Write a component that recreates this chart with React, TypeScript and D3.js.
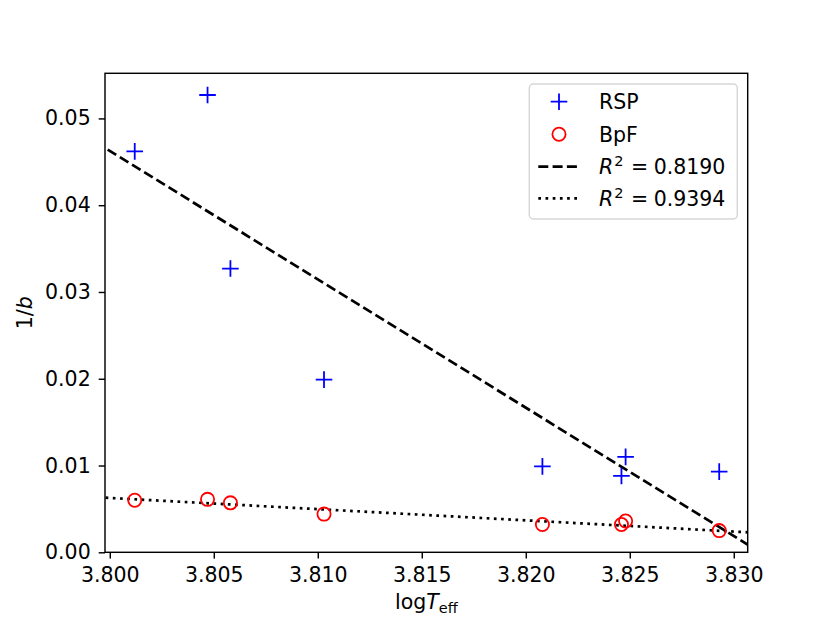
import React, { useRef, useEffect } from 'react';
import * as d3 from 'd3';

// log Teff of the stars (same for both series)
const logTeff = [3.8012, 3.8047, 3.8058, 3.8103, 3.8208, 3.8246, 3.8248, 3.8293];
const rspValues = [0.0462, 0.0527, 0.0327, 0.0199, 0.0099, 0.0088, 0.0110, 0.0093];
const bpfValues = [0.0060, 0.0061, 0.0057, 0.0044, 0.0032, 0.0032, 0.0036, 0.0025];

// fitted lines, end points
const rspFit: [number, number][] = [[3.7999, 0.0464], [3.8307, 0.00084]];
const bpfFit: [number, number][] = [[3.7998, 0.00629], [3.8307, 0.0023]];

const xTicks = [3.800, 3.805, 3.810, 3.815, 3.820, 3.825, 3.830];
const yTicks = [0.00, 0.01, 0.02, 0.03, 0.04, 0.05];

const legendLabels = ['RSP', 'BpF', '0.8190', '0.9394'];

const W = 830;
const H = 622;
const FONT = '"DejaVu Sans", sans-serif';
const FS = 20.5;

const createChart = (svg: d3.Selection<SVGSVGElement, unknown, null, undefined>): void => {
    const margin = { top: 73.3, right: W - 747.7, bottom: H - 552.3, left: 105 };
    const width = W - margin.left - margin.right;
    const height = H - margin.top - margin.bottom;

    svg.selectAll('*').remove();

    const x = d3.scaleLinear().domain([3.79977, 3.83067]).range([0, width]);
    const y = d3.scaleLinear().domain([0, 0.0552]).range([height, 0]);

    const g = svg.append('g').attr('transform', `translate(${margin.left},${margin.top})`);

    const clipId = 'plot-clip';
    svg.append('defs').append('clipPath').attr('id', clipId)
        .append('rect').attr('width', width).attr('height', height);

    const plot = g.append('g').attr('clip-path', `url(#${clipId})`);

    // fit lines
    const line = d3.line<[number, number]>().x(d => x(d[0])).y(d => y(d[1]));
    plot.append('path').datum(rspFit).attr('d', line)
        .attr('fill', 'none').attr('stroke', '#000').attr('stroke-width', 2.7)
        .attr('stroke-dasharray', '10,4.3');
    plot.append('path').datum(bpfFit).attr('d', line)
        .attr('fill', 'none').attr('stroke', '#000').attr('stroke-width', 2.7)
        .attr('stroke-dasharray', '2.7,4.5');

    const plus = (sel: d3.Selection<any, any, any, any>, cx: number, cy: number) => {
        const a = 8.3;
        sel.append('path')
            .attr('d', `M${cx - a},${cy}H${cx + a}M${cx},${cy - a}V${cy + a}`)
            .attr('stroke', '#0000ff').attr('stroke-width', 1.8).attr('fill', 'none');
    };

    // RSP markers
    rspValues.forEach((v, i) => plus(plot, x(logTeff[i]), y(v)));

    // BpF markers
    plot.selectAll('.bpf')
        .data(bpfValues)
        .enter().append('circle')
        .attr('class', 'bpf')
        .attr('cx', (_, i) => x(logTeff[i]))
        .attr('cy', d => y(d))
        .attr('r', 6.6)
        .attr('fill', 'none')
        .attr('stroke', '#ff0000')
        .attr('stroke-width', 1.8);

    // axes
    const xAxis = g.append('g')
        .attr('transform', `translate(0,${height})`)
        .call(d3.axisBottom(x).tickValues(xTicks).tickFormat(d3.format('.3f')).tickSize(6.3).tickPadding(8.5));
    const yAxis = g.append('g')
        .call(d3.axisLeft(y).tickValues(yTicks).tickFormat(d3.format('.2f')).tickSize(6.3).tickPadding(8));

    [xAxis, yAxis].forEach(ax => {
        ax.select('.domain').remove();
        ax.selectAll('.tick line').attr('stroke', '#000').attr('stroke-width', 1.44);
        ax.selectAll('.tick text').attr('fill', '#000').attr('font-size', FS).attr('font-family', FONT);
    });

    // frame
    g.append('rect').attr('width', width).attr('height', height)
        .attr('fill', 'none').attr('stroke', '#000').attr('stroke-width', 1.44);

    // axis labels
    const xl = svg.append('text')
        .attr('x', margin.left + width / 2).attr('y', 609)
        .attr('text-anchor', 'middle').attr('font-size', FS).attr('font-family', FONT);
    xl.append('tspan').text('log');
    xl.append('tspan').attr('font-style', 'italic').text('T');
    xl.append('tspan').attr('font-size', 14.5).attr('dy', 4).text('eff');

    const yl = svg.append('text')
        .attr('transform', `translate(32,${margin.top + height / 2}) rotate(-90)`)
        .attr('text-anchor', 'middle').attr('font-size', FS).attr('font-family', FONT);
    yl.append('tspan').text('1/');
    yl.append('tspan').attr('font-style', 'italic').text('b');

    // legend
    const lg = svg.append('g');
    lg.append('rect')
        .attr('x', 529.3).attr('y', 84).attr('width', 208).attr('height', 135)
        .attr('rx', 4).attr('fill', '#fff').attr('fill-opacity', 0.8)
        .attr('stroke', '#d6d6d6').attr('stroke-width', 1.44);

    const rowY = [101.7, 134.3, 166.7, 198.3];
    plus(lg, 559, rowY[0]);
    lg.append('circle').attr('cx', 559).attr('cy', rowY[1]).attr('r', 6.6)
        .attr('fill', 'none').attr('stroke', '#ff0000').attr('stroke-width', 1.8);
    lg.append('line').attr('x1', 538.3).attr('x2', 580).attr('y1', rowY[2]).attr('y2', rowY[2])
        .attr('stroke', '#000').attr('stroke-width', 2.7).attr('stroke-dasharray', '10,4.3');
    lg.append('line').attr('x1', 538.3).attr('x2', 580).attr('y1', rowY[3]).attr('y2', rowY[3])
        .attr('stroke', '#000').attr('stroke-width', 2.7).attr('stroke-dasharray', '2.7,4.5');

    legendLabels.forEach((label, i) => {
        const t = lg.append('text')
            .attr('x', 599).attr('y', rowY[i]).attr('dy', '0.36em')
            .attr('font-size', FS).attr('font-family', FONT);
        if (i < 2) {
            t.text(label);
        } else {
            t.append('tspan').attr('font-style', 'italic').text('R');
            t.append('tspan').attr('font-size', 14.5).attr('dy', -8).attr('dx', 1).text('2');
            t.append('tspan').attr('dy', 8).attr('dx', 7.5).text('=');
            t.append('tspan').attr('dx', 5.5).text(label);
        }
    });
};

const App: React.FC = () => {
    const ref = useRef<SVGSVGElement>(null);

    useEffect(() => {
        if (ref.current) {
            createChart(d3.select(ref.current));
        }
    }, []);

    return (
        <svg
            ref={ref}
            width={W}
            height={H}
            style={{ position: 'absolute', left: 0, top: 0, background: '#fff' }}
        />
    );
};

export default App;
